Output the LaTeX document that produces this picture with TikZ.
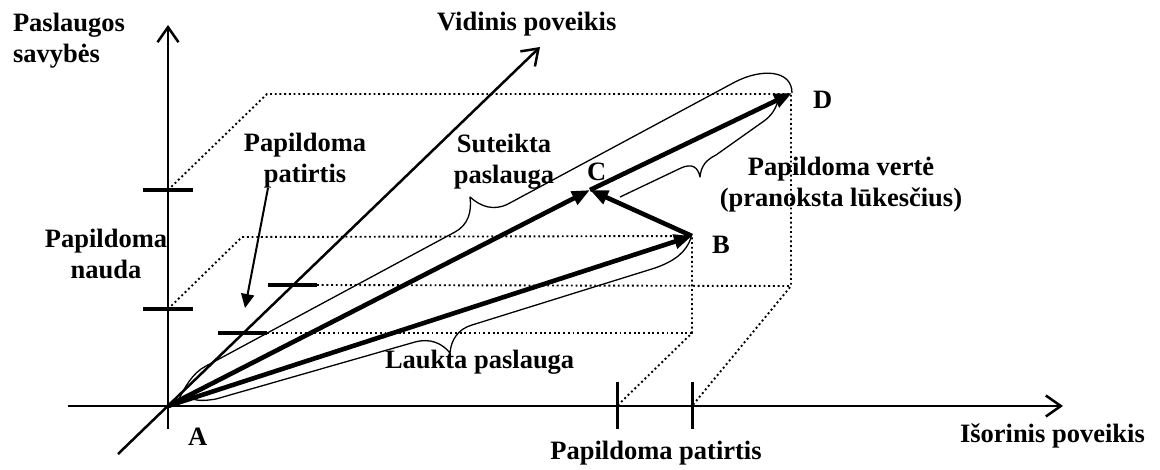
\documentclass[tikz,border=0pt]{standalone}
\usepackage{fontspec}
\setmainfont{Liberation Serif}
\usetikzlibrary{arrows.meta}
\begin{document}
\begin{tikzpicture}[x=1pt,y=-1pt,
  lbl/.style={font=\fontsize{26.5}{30.5}\selectfont\bfseries, inner sep=0pt, outer sep=0pt},
  axisline/.style={line width=2.5pt, -{Straight Barb[length=15pt,width=21pt]}},
  tick/.style={line width=3.3pt},
  dotline/.style={line width=1.9pt, dash pattern=on 1.9pt off 2.8pt},
  vec/.style={line width=4.6pt, -{Triangle[length=18pt,width=14pt]}},
  pointer/.style={line width=2pt, -{Triangle[length=14pt,width=13pt]}},
  bracepath/.style={line width=1.3pt, line join=round}]
\useasboundingbox (0,0) rectangle (1160,469);

% points of the diagram
\coordinate (A) at (168,406);
\coordinate (B) at (692,236);
\coordinate (C) at (590,190);
\coordinate (D) at (792,93);

% axis ends
\coordinate (xL) at (68,406);
\coordinate (xR) at (1063,406);
\coordinate (yB) at (168,429);
\coordinate (yT) at (168,25);
\coordinate (zB) at (118,454);
\coordinate (zT) at (540,47);

% tick marks
\coordinate (ty1a) at (143,309); \coordinate (ty1b) at (193,309);
\coordinate (ty2a) at (143,190); \coordinate (ty2b) at (193,190);
\coordinate (tz1a) at (218,333); \coordinate (tz1b) at (267,333);
\coordinate (tz2a) at (268,285); \coordinate (tz2b) at (317,285);
\coordinate (tx1a) at (617,382); \coordinate (tx1b) at (617,429);
\coordinate (tx2a) at (692,382); \coordinate (tx2b) at (692,429);

% corners of the dotted boxes
\coordinate (vy1) at (168,309);
\coordinate (vy2) at (168,190);
\coordinate (vx1) at (617,406);
\coordinate (vx2) at (692,406);
\coordinate (bTL) at (242,237);
\coordinate (bBR) at (692,333);
\coordinate (dTL) at (267,94);
\coordinate (dBR) at (791,286);
\coordinate (dTR) at (791,94);

% dotted construction lines
\draw[dotline] (vy1) -- (bTL) -- (B) -- (bBR) -- (vx1);
\draw[dotline] (tz1b) -- (bBR);
\draw[dotline] (vy2) -- (dTL) -- (dTR) -- (dBR) -- (vx2);
\draw[dotline] (tz2b) -- (dBR);

% axes
\draw[axisline] (xL) -- (xR);
\draw[axisline] (yB) -- (yT);
\draw[axisline] (zB) -- (zT);

% ticks
\draw[tick] (ty1a) -- (ty1b);
\draw[tick] (ty2a) -- (ty2b);
\draw[tick] (tz1a) -- (tz1b);
\draw[tick] (tz2a) -- (tz2b);
\draw[tick,line width=3pt] (tx1a) -- (tx1b);
\draw[tick,line width=3pt] (tx2a) -- (tx2b);

% braces
\draw[bracepath] (179,399) .. controls (184,389) and (192,373) .. (206,366)
  -- (455,232) .. controls (468,225) and (472,212) .. (470,197)
  .. controls (481,207) and (494,211) .. (508,204)
  -- (735,82) .. controls (762,68) and (792,70) .. (D);
\draw[bracepath] (190,398) .. controls (197,401) and (204,401) .. (216,399)
  -- (415,342) .. controls (430,338) and (442,343) .. (450,353)
  .. controls (451,340) and (458,329) .. (472,325)
  -- (655,268) .. controls (675,261) and (686,252) .. (691,238);
\draw[bracepath] (620,197) -- (681,168) .. controls (692,163) and (698,167) .. (700,177)
  .. controls (701,166) and (706,160) .. (716,155)
  -- (764,121) .. controls (771,116) and (776,109) .. (778,100);

% vectors
\draw[vec] (A) -- (B);
\draw[vec] (A) -- (C);
\draw[vec] (B) -- (C);
\draw[vec] (C) -- (D);

% labels (two-line labels are placed by the baseline of their last line)
\node[lbl, anchor=base west, align=left] (lpasl) at (13,62) {Paslaugos\\savybės};
\node[lbl, anchor=base west] (lvid) at (437,30) {Vidinis poveikis};
\node[lbl, anchor=base, align=center] (lpat) at (305,182) {Papildoma\\patirtis};
\node[lbl, anchor=base, align=center] (lnau) at (106,278) {Papildoma\\nauda};
\node[lbl, anchor=base, align=center] (lsut) at (504,183) {Suteikta\\paslauga};
\node[lbl, anchor=base, align=center] (lver) at (841,206) {Papildoma vertė\\(pranoksta lūkesčius)};
\node[lbl, anchor=base west] (lauk) at (385,368) {Laukta paslauga};
\node[lbl, anchor=base] (lpat2) at (656,459) {Papildoma patirtis};
\node[lbl, anchor=base west] (lisor) at (960,442) {Išorinis poveikis};
\node[lbl, anchor=base west] (nA) at (188,445) {A};
\node[lbl, anchor=base west] (nB) at (712,253) {B};
\node[lbl, anchor=base west] (nC) at (587,180) {C};
\node[lbl, anchor=base west] (nD) at (813,108) {D};

% pointer from the upper label
\coordinate (pstart) at (268,188);
\coordinate (pend) at (245,308);
\draw[pointer] (pstart) -- (pend);
\end{tikzpicture}
\end{document}
